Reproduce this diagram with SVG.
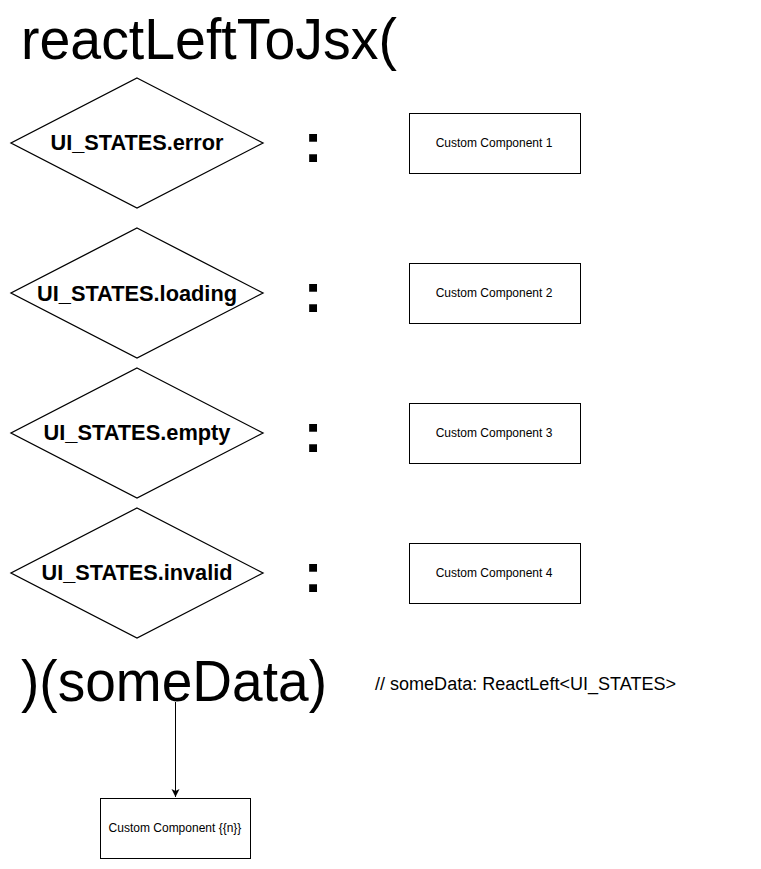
<svg xmlns="http://www.w3.org/2000/svg" width="761" height="869" viewBox="0 0 761 869">
<style>
text{font-family:"Liberation Sans",Arial,sans-serif;fill:#000}
.d{fill:#fff;stroke:#000;stroke-width:1.3}
.b{fill:#fff;stroke:#000;stroke-width:1}
.dl{font-size:22px;font-weight:bold;text-anchor:middle}
.bl{font-size:12px;text-anchor:middle}
.col{font-size:56px;font-weight:bold;text-anchor:middle}
.big{font-size:57px}
</style>
<defs>
<marker id="ah" markerWidth="10" markerHeight="10" refX="8" refY="4" orient="auto" markerUnits="userSpaceOnUse">
<path d="M0,0 L8,4 L0,8 L2,4 Z" fill="#000"/>
</marker>
</defs>
<rect width="761" height="869" fill="#fff"/>
<g id="title"><text class="big" x="21" y="59" textLength="376" lengthAdjust="spacingAndGlyphs">reactLeftToJsx(</text></g>

<g id="cond1"><path class="d" d="M137,78 L263,143 L137,208 L11,143 Z"/><text class="dl" x="137" y="150" textLength="173" lengthAdjust="spacingAndGlyphs">UI_STATES.error</text></g>
<g id="cond2"><path class="d" d="M137,228 L263,293 L137,358 L11,293 Z"/><text class="dl" x="137" y="301" textLength="200" lengthAdjust="spacingAndGlyphs">UI_STATES.loading</text></g>
<g id="cond3"><path class="d" d="M137,368 L263,433 L137,498 L11,433 Z"/><text class="dl" x="137" y="440" textLength="187" lengthAdjust="spacingAndGlyphs">UI_STATES.empty</text></g>
<g id="cond4"><path class="d" d="M137,508 L263,573 L137,638 L11,573 Z"/><text class="dl" x="137" y="580" textLength="191" lengthAdjust="spacingAndGlyphs">UI_STATES.invalid</text></g>

<g id="colon1"><text class="col" x="313" y="162">:</text></g>
<g id="colon2"><text class="col" x="313" y="312">:</text></g>
<g id="colon3"><text class="col" x="313" y="452">:</text></g>
<g id="colon4"><text class="col" x="313" y="592">:</text></g>

<g id="comp1"><rect class="b" x="409.5" y="113.5" width="171" height="60"/><text class="bl" x="494" y="147">Custom Component 1</text></g>
<g id="comp2"><rect class="b" x="409.5" y="263.5" width="171" height="60"/><text class="bl" x="494" y="297">Custom Component 2</text></g>
<g id="comp3"><rect class="b" x="409.5" y="403.5" width="171" height="60"/><text class="bl" x="494" y="437">Custom Component 3</text></g>
<g id="comp4"><rect class="b" x="409.5" y="543.5" width="171" height="60"/><text class="bl" x="494" y="577">Custom Component 4</text></g>

<g id="call"><text class="big" x="21" y="701" textLength="306" lengthAdjust="spacingAndGlyphs">)(someData)</text></g>
<g id="comment"><text x="375" y="690" font-size="18" textLength="301" lengthAdjust="spacingAndGlyphs">// someData: ReactLeft&lt;UI_STATES&gt;</text></g>

<g id="connectors"><line x1="175.5" y1="702" x2="175.5" y2="797" stroke="#000" stroke-width="1" marker-end="url(#ah)"/></g>

<g id="compN"><rect class="b" x="100.5" y="798.5" width="150" height="60"/><text class="bl" x="175" y="832">Custom Component {{n}}</text></g>
</svg>
